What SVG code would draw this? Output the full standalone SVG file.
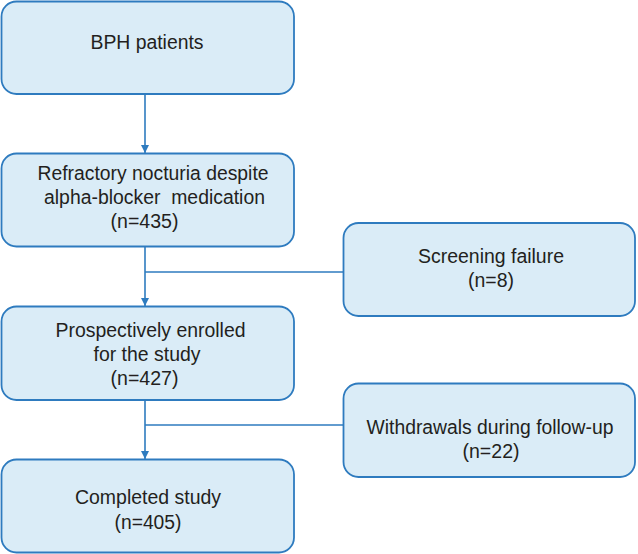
<svg xmlns="http://www.w3.org/2000/svg" width="638" height="554" viewBox="0 0 638 554">
<style>
.box{fill:#daecf7;stroke:#2e7bbf;stroke-width:1.8}
.t{font-family:"Liberation Sans",Arial,sans-serif;font-size:19.5px;fill:#231f20;text-anchor:middle}
.c{stroke:#2e7bbf;stroke-width:1.6;fill:none}
</style>
<defs>
<marker id="ah" viewBox="0 0 10 10" refX="10" refY="5" markerWidth="8" markerHeight="8" markerUnits="userSpaceOnUse" orient="auto">
<path d="M0,0 L10,5 L0,10 Z" fill="#2e7bbf"/>
</marker>
</defs>
<rect width="638" height="554" fill="#ffffff"/>
<g id="connectors">
<line class="c" x1="145" y1="94" x2="145" y2="153" marker-end="url(#ah)"/>
<line class="c" x1="145" y1="247" x2="145" y2="306" marker-end="url(#ah)"/>
<line class="c" x1="145" y1="272" x2="343" y2="272"/>
<line class="c" x1="145" y1="400" x2="145" y2="459" marker-end="url(#ah)"/>
<line class="c" x1="145" y1="425" x2="343" y2="425"/>
</g>
<g id="bph">
<rect class="box" x="1.5" y="1.5" width="292.5" height="92.5" rx="15"/>
<text class="t" x="147" y="49" textLength="113" lengthAdjust="spacingAndGlyphs">BPH patients</text>
</g>
<g id="refractory">
<rect class="box" x="1.5" y="153.5" width="292.5" height="93" rx="15"/>
<text class="t" x="153" y="180" textLength="231" lengthAdjust="spacingAndGlyphs">Refractory nocturia despite</text>
<text class="t" x="154.5" y="204" textLength="221" lengthAdjust="spacingAndGlyphs" xml:space="preserve" style="white-space:pre">alpha-blocker  medication</text>
<text class="t" x="144.5" y="228" textLength="68" lengthAdjust="spacingAndGlyphs">(n=435)</text>
</g>
<g id="screening">
<rect class="box" x="343.5" y="223" width="291.5" height="93" rx="15"/>
<text class="t" x="491" y="263" textLength="146" lengthAdjust="spacingAndGlyphs">Screening failure</text>
<text class="t" x="491" y="287" textLength="46" lengthAdjust="spacingAndGlyphs">(n=8)</text>
</g>
<g id="enrolled">
<rect class="box" x="1.5" y="306.5" width="292.5" height="93.5" rx="15"/>
<text class="t" x="150.5" y="337" textLength="190" lengthAdjust="spacingAndGlyphs">Prospectively enrolled</text>
<text class="t" x="147" y="361" textLength="107" lengthAdjust="spacingAndGlyphs">for the study</text>
<text class="t" x="144.5" y="385" textLength="68" lengthAdjust="spacingAndGlyphs">(n=427)</text>
</g>
<g id="withdrawals">
<rect class="box" x="343.5" y="383.5" width="291.5" height="93.5" rx="15"/>
<text class="t" x="490" y="434" textLength="247" lengthAdjust="spacingAndGlyphs">Withdrawals during follow-up</text>
<text class="t" x="491" y="458" textLength="57" lengthAdjust="spacingAndGlyphs">(n=22)</text>
</g>
<g id="completed">
<rect class="box" x="1.5" y="459.5" width="292.5" height="93" rx="15"/>
<text class="t" x="148" y="504" textLength="146" lengthAdjust="spacingAndGlyphs">Completed study</text>
<text class="t" x="148" y="529" textLength="67" lengthAdjust="spacingAndGlyphs">(n=405)</text>
</g>
</svg>
